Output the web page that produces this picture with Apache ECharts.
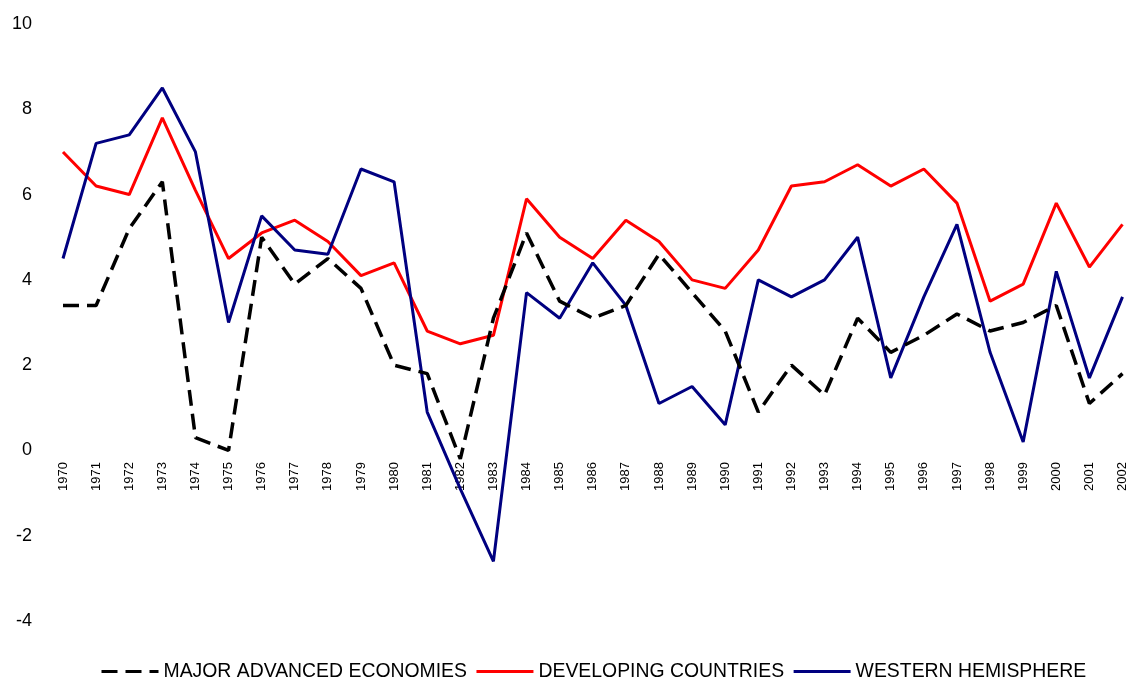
<!DOCTYPE html>
<html>
<head>
<meta charset="utf-8">
<script src="https://cdn.jsdelivr.net/npm/echarts@6/dist/echarts.min.js"></script>
<style>
html,body{margin:0;padding:0;background:#fff;}
#chart{width:1129px;height:679px;}
</style>
</head>
<body>
<div id="chart"></div>
<script>
const years = ['1970','1971','1972','1973','1974','1975','1976','1977','1978','1979','1980','1981','1982','1983','1984','1985','1986','1987','1988','1989','1990','1991','1992','1993','1994','1995','1996','1997','1998','1999','2000','2001','2002'];
const majorAdvanced = [3.4,3.4,5.2,6.3,0.3,0.0,5.0,3.9,4.5,3.8,2.0,1.8,-0.2,3.1,5.1,3.5,3.1,3.4,4.6,3.7,2.8,0.9,2.0,1.3,3.1,2.3,2.7,3.2,2.8,3.0,3.4,1.1,1.8];
const developing = [7.0,6.2,6.0,7.8,6.1,4.5,5.1,5.4,4.9,4.1,4.4,2.8,2.5,2.7,5.9,5.0,4.5,5.4,4.9,4.0,3.8,4.7,6.2,6.3,6.7,6.2,6.6,5.8,3.5,3.9,5.8,4.3,5.3];
const western = [4.5,7.2,7.4,8.5,7.0,3.0,5.5,4.7,4.6,6.6,6.3,0.9,-0.9,-2.6,3.7,3.1,4.4,3.4,1.1,1.5,0.6,4.0,3.6,4.0,5.0,1.7,3.6,5.3,2.3,0.2,4.2,1.7,3.6];
const seriesNames = ['MAJOR ADVANCED ECONOMIES','DEVELOPING COUNTRIES','WESTERN HEMISPHERE'];

const chart = echarts.init(document.getElementById('chart'));
chart.setOption({
  animation: false,
  textStyle: {fontFamily: 'Liberation Sans, Arial, sans-serif'},
  grid: {left: 63, right: 5, top: 24, bottom: 58, containLabel: false},
  legend: {
    data: seriesNames,
    left: 100,
    top: 662,
    padding: 0,
    itemWidth: 57,
    itemHeight: 14,
    itemGap: 8,
    itemStyle: {opacity: 0},
    lineStyle: {width: 3},
    textStyle: {fontSize: 19.4, color: '#000', fontFamily: 'Liberation Sans, Arial, sans-serif'}
  },
  xAxis: {
    type: 'category',
    data: years,
    boundaryGap: false,
    offset: -171,
    axisLine: {show: true, onZero: true, lineStyle: {color: 'rgba(0,0,0,0)'}},
    axisTick: {show: false},
    splitLine: {show: false},
    axisLabel: {rotate: 90, interval: 0, margin: 12, fontSize: 13, color: '#000'}
  },
  yAxis: {
    type: 'value',
    min: -4, max: 10, interval: 2,
    axisLine: {show: false},
    axisTick: {show: false},
    splitLine: {show: false},
    axisLabel: {margin: 31, fontSize: 18, color: '#000'}
  },
  series: [
    {name: seriesNames[0], type: 'line', data: majorAdvanced, symbol: 'none',
     lineStyle: {color: '#000', width: 3.5, type: [16, 8]}, itemStyle: {color: '#000'}, z: 3},
    {name: seriesNames[1], type: 'line', data: developing, symbol: 'none',
     lineStyle: {color: '#ff0000', width: 3}, itemStyle: {color: '#ff0000'}, z: 2},
    {name: seriesNames[2], type: 'line', data: western, symbol: 'none',
     lineStyle: {color: '#000080', width: 3}, itemStyle: {color: '#000080'}, z: 2}
  ]
});
</script>
</body>
</html>
